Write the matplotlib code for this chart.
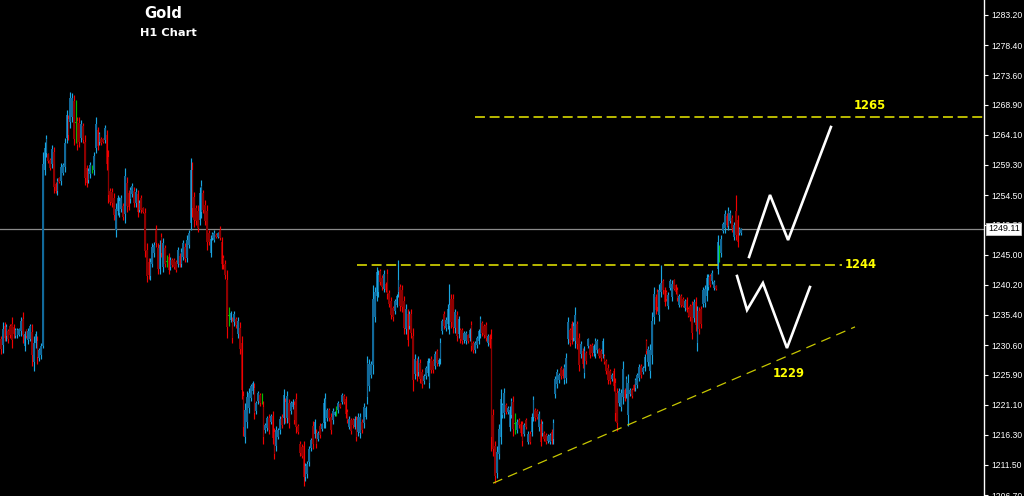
import matplotlib
matplotlib.use('Agg')
import matplotlib.pyplot as plt
import matplotlib.transforms as mtransforms
import numpy as np

# ---------------- data (Gold, H1) ----------------
opens = [
1231.5,1230.6,1233.7,1232.0,1232.8,1233.6,1234.0,1233.5,1232.0,1232.2,
1232.2,1232.8,1234.8,1230.5,1233.0,1231.4,1231.6,1232.7,1227.9,1230.9,
1231.2,1228.6,1229.0,1230.5,1258.5,1261.2,
1261.0,1260.1,1259.5,1261.3,1256.2,1255.1,1257.2,1256.8,1258.1,1259.0,
1263.6,1266.7,1266.1,1267.0,1269.5,1266.0,1266.3,1266.0,1263.6,1265.5,
1263.0,1258.8,1256.9,1257.8,1258.6,1258.5,1262.0,1264.8,1263.0,1263.5,
1263.4,1263.3,1264.0,1260.5,1255.2,1255.0,1254.0,1249.0,1252.0,1251.6,
1252.3,1252.7,1251.5,1256.5,1254.8,1253.8,1254.7,1255.2,1253.2,1254.6,
1252.2,1254.0,1252.4,1251.6,1245.8,1243.8,1241.6,1243.6,1245.2,1249.0,
1246.0,1242.8,1247.8,1243.0,1246.0,1243.9,1244.7,1243.0,1244.2,1244.1,
1243.8,1243.6,1244.8,1243.6,1244.7,1246.3,1244.5,1246.5,
1250.0,1258.5,1254.2,1252.4,1252.0,1250.5,1251.8,1254.8,1253.0,1252.0,
1248.5,1245.3,1247.6,1247.4,1248.2,1247.8,1249.0,1247.0,1244.5,1243.6,
1241.0,1235.2,1234.6,1234.4,1234.2,1234.7,1232.4,1233.4,1231.0,1222.5,
1216.0,1218.3,1220.5,1222.2,1223.3,1223.8,1220.1,1221.7,1222.6,1222.1,
1220.8,1217.0,1217.4,1219.0,1218.3,1219.3,1216.7,1214.5,1216.0,1217.0,
1219.2,1219.0,1221.5,1219.0,1221.4,1220.1,1220.8,1221.0,1222.0,1217.7,
1214.9,1214.4,1214.5,1209.5,1210.0,1212.0,1214.2,1217.7,1216.4,1216.6,
1215.7,1217.7,1217.2,1218.2,1218.4,1219.0,1220.2,1219.2,1218.6,1219.5,
1220.1,1220.2,1221.2,1221.6,1222.5,1222.0,1220.0,1217.6,1218.6,1218.7,
1217.6,1218.7,1216.8,1216.6,1218.4,1218.2,1219.2,1222.3,1224.0,1225.9,
1227.5,1235.0,1238.5,1239.0,1242.4,1241.3,1239.6,1240.3,1242.0,1238.9,
1237.6,1236.5,1236.0,1237.0,1239.0,1239.8,1239.4,1237.6,1233.2,1235.6,
1233.7,1235.6,1232.0,1226.0,1228.0,1226.3,1227.8,1226.3,1224.8,1225.6,
1226.2,1224.6,1228.4,1228.0,1227.3,1229.6,1227.6,1228.4,1232.9,1235.6,
1233.3,1234.0,1233.6,1238.0,1238.0,1233.4,1235.4,1232.4,1233.0,1233.0,
1231.4,1231.3,1232.2,1231.7,1233.8,1231.0,1229.8,1230.6,1231.3,1232.4,
1234.1,1233.6,1233.8,1230.9,1232.0,1231.5,1219.5,1214.5,1210.2,1213.2,
1216.0,1219.4,1219.8,1221.1,1219.9,1217.6,1219.5,1221.6,1218.0,1217.0,
1218.7,1218.1,1218.0,1216.5,1218.7,1215.2,1216.5,1216.8,1219.2,1220.2,
1220.1,1217.6,1218.1,1216.6,1216.6,1216.3,1215.3,1215.2,1216.8,1215.6,
1222.8,1224.4,1225.0,1226.9,1226.7,1225.0,1225.4,1231.5,1233.0,1234.0,
1231.8,1231.2,1233.9,1231.8,1229.1,1229.7,1226.2,1229.3,1230.5,1230.4,
1230.6,1229.3,1229.2,1229.8,1229.9,1229.7,1229.2,1228.9,1228.0,1227.0,
1226.4,1225.2,1226.4,1224.6,1223.0,1221.4,1220.8,1222.4,1223.4,1222.8,
1219.5,1222.8,1223.5,1224.2,1223.7,1224.3,1225.4,1227.2,1226.3,1227.0,
1231.2,1227.9,1226.4,1229.0,1235.0,1238.2,1239.0,1235.4,1239.0,1240.8,
1239.4,1239.0,1236.9,1239.7,1238.3,1240.9,1240.1,1239.4,1237.0,1238.4,
1237.9,1236.5,1237.8,1236.3,1236.8,1237.0,1234.9,1237.5,1231.0,1236.0,
1236.4,1237.2,1237.3,1238.5,1239.8,1241.6,1240.8,1239.7,1240.0,1242.8,
1245.2,1245.3,1248.8,1249.2,1251.2,1249.6,1250.4,1250.8,1247.8,1252.0,
1250.6,1248.4,1248.4]

highs = [
1232.1,1234.2,1234.2,1234.0,1233.2,1234.0,1235.0,1234.0,1233.4,1233.4,
1233.4,1235.0,1235.8,1232.9,1233.2,1233.4,1234.0,1234.0,1232.1,1232.9,
1232.1,1230.2,1231.0,1261.4,1263.0,1264.1,
1261.2,1260.4,1262.5,1262.2,1256.6,1257.2,1257.4,1259.6,1259.6,1263.6,
1268.1,1267.3,1271.0,1270.8,1270.5,1269.7,1267.0,1267.0,1266.5,1266.0,
1264.1,1259.3,1258.8,1259.8,1259.3,1261.4,1267.0,1265.4,1264.6,1263.8,
1263.6,1265.7,1264.9,1261.7,1255.6,1255.6,1254.8,1253.2,1254.5,1254.2,
1254.5,1253.2,1258.8,1257.4,1255.3,1255.8,1256.4,1255.8,1255.6,1255.3,
1253.7,1254.5,1252.6,1252.4,1246.8,1244.4,1244.4,1246.8,1247.0,1249.7,
1246.8,1247.3,1248.4,1247.6,1246.5,1244.9,1245.2,1244.6,1244.4,1244.4,
1244.1,1246.2,1245.2,1246.0,1247.3,1246.8,1248.1,1248.9,
1260.4,1259.8,1255.0,1252.9,1252.9,1255.8,1256.9,1255.3,1253.7,1252.9,
1248.9,1248.1,1248.6,1248.9,1248.4,1248.6,1249.5,1247.8,1244.9,1244.1,
1242.5,1236.6,1236.1,1235.0,1236.1,1235.0,1235.0,1234.2,1232.1,1223.3,
1221.4,1223.3,1223.8,1224.4,1224.9,1224.6,1221.7,1223.3,1223.0,1223.0,
1221.7,1218.2,1219.3,1219.6,1219.6,1220.1,1217.4,1217.7,1217.4,1219.3,
1219.6,1223.6,1222.2,1223.3,1222.0,1221.7,1222.0,1221.7,1223.0,1218.0,
1215.3,1214.8,1215.3,1211.8,1212.1,1214.5,1215.8,1218.5,1218.8,1217.2,
1216.9,1218.2,1218.2,1222.2,1223.0,1220.6,1220.6,1219.8,1220.6,1220.1,
1220.9,1221.7,1221.4,1223.0,1222.8,1222.5,1220.4,1219.3,1219.0,1219.0,
1219.3,1219.3,1219.8,1219.8,1218.8,1221.4,1220.9,1228.9,1228.4,1228.1,
1240.1,1239.8,1243.0,1242.5,1242.8,1241.7,1242.5,1240.6,1242.8,1239.3,
1238.2,1236.9,1238.0,1238.8,1244.1,1240.4,1240.1,1238.5,1237.2,1236.4,
1236.1,1236.4,1233.4,1229.2,1228.6,1228.9,1228.4,1226.8,1226.0,1227.3,
1228.6,1228.6,1228.9,1228.4,1229.7,1230.0,1228.6,1231.8,1234.8,1236.1,
1235.0,1237.2,1240.4,1238.8,1238.8,1236.4,1236.1,1235.3,1233.4,1233.4,
1232.9,1232.9,1232.4,1233.4,1234.5,1231.3,1231.3,1232.1,1233.2,1235.3,
1234.5,1234.0,1234.2,1232.4,1232.4,1233.2,1220.4,1215.3,1214.5,1218.0,
1223.6,1221.4,1223.8,1221.4,1220.9,1220.9,1222.2,1222.5,1219.8,1218.8,
1219.0,1218.5,1218.5,1218.2,1219.0,1216.9,1216.9,1219.8,1222.5,1220.6,
1220.4,1220.1,1218.8,1218.5,1216.9,1216.6,1216.4,1216.6,1217.2,1218.8,
1225.7,1226.8,1226.2,1227.3,1227.0,1227.6,1229.4,1235.0,1233.4,1234.5,
1234.2,1236.6,1234.5,1232.6,1231.3,1230.2,1230.5,1229.7,1231.8,1230.8,
1231.0,1230.8,1231.8,1231.6,1230.2,1230.0,1231.8,1229.2,1228.4,1227.6,
1226.8,1226.2,1227.0,1225.4,1223.8,1223.8,1223.6,1228.1,1223.8,1225.7,
1226.0,1223.8,1223.8,1224.4,1225.4,1226.2,1227.6,1227.6,1227.3,1229.2,
1231.6,1230.5,1230.8,1235.8,1239.8,1238.8,1239.6,1240.4,1243.3,1241.2,
1239.8,1239.3,1239.0,1241.2,1240.9,1241.2,1240.4,1239.8,1238.8,1238.8,
1238.2,1238.0,1238.2,1236.6,1237.2,1237.7,1238.0,1238.2,1236.9,1236.6,
1236.9,1239.8,1240.1,1242.0,1242.0,1242.0,1242.5,1240.9,1240.1,1248.1,
1246.5,1248.1,1250.2,1252.1,1251.6,1252.6,1252.1,1251.3,1250.2,1254.5,
1251.3,1249.4,1249.2]

lows = [
1229.2,1229.4,1231.3,1231.3,1231.0,1231.8,1230.2,1231.8,1231.8,1231.8,
1232.1,1232.1,1231.0,1229.7,1231.8,1230.8,1231.3,1227.3,1226.5,1230.2,
1227.6,1228.1,1228.4,1230.2,1257.7,1260.6,
1259.6,1258.5,1258.8,1254.8,1254.8,1254.5,1256.4,1256.1,1257.7,1258.2,
1262.8,1263.3,1265.2,1266.2,1262.5,1262.8,1261.7,1262.2,1263.0,1262.8,
1256.1,1255.8,1256.4,1257.2,1258.0,1257.7,1261.2,1261.7,1262.5,1262.5,
1262.8,1262.8,1258.5,1253.2,1252.9,1252.6,1250.5,1247.8,1251.3,1251.0,
1251.8,1250.5,1250.0,1251.8,1252.1,1253.2,1254.2,1252.6,1252.6,1251.0,
1251.8,1251.6,1251.6,1244.6,1240.6,1241.2,1240.9,1243.0,1244.6,1246.2,
1242.0,1242.0,1244.6,1242.2,1243.0,1243.0,1242.0,1242.5,1243.0,1242.8,
1242.2,1243.0,1243.0,1243.0,1244.1,1243.8,1243.8,1246.0,
1248.9,1251.0,1249.4,1249.7,1248.6,1249.7,1250.8,1251.6,1249.7,1245.7,
1246.5,1244.6,1247.3,1247.0,1247.6,1247.6,1247.3,1242.8,1242.8,1241.2,
1231.8,1233.7,1234.2,1231.0,1233.7,1233.4,1231.8,1229.2,1222.0,1216.1,
1215.0,1217.4,1219.8,1221.7,1222.8,1218.8,1219.6,1221.2,1220.9,1221.2,
1214.8,1216.6,1216.9,1216.4,1218.0,1214.8,1212.4,1213.7,1215.6,1216.4,
1217.4,1218.0,1218.2,1218.2,1217.4,1219.6,1220.4,1218.0,1216.6,1216.4,
1212.9,1212.6,1208.1,1208.9,1209.4,1211.3,1213.7,1214.0,1215.8,1214.2,
1215.3,1215.8,1216.9,1217.4,1217.4,1218.5,1218.5,1216.4,1218.0,1219.3,
1219.3,1219.8,1220.6,1221.2,1221.2,1219.0,1218.2,1217.2,1216.4,1217.4,
1217.2,1215.3,1216.1,1215.8,1216.6,1217.4,1218.8,1221.2,1223.3,1225.4,
1226.0,1234.2,1237.7,1238.2,1240.1,1239.3,1239.0,1239.0,1238.0,1236.6,
1234.8,1234.5,1235.6,1236.6,1238.2,1236.1,1235.8,1232.4,1232.4,1230.5,
1233.2,1231.8,1223.3,1225.2,1224.9,1225.7,1224.6,1223.8,1224.4,1225.2,
1225.7,1223.8,1226.2,1226.2,1226.8,1227.3,1227.3,1227.6,1232.4,1233.2,
1232.9,1233.2,1232.4,1233.4,1232.6,1232.6,1231.3,1231.8,1231.0,1230.8,
1231.0,1230.8,1231.0,1231.3,1229.7,1229.4,1229.4,1230.2,1230.8,1231.8,
1232.1,1231.8,1231.3,1230.5,1230.2,1213.7,1212.9,1208.6,1209.4,1212.4,
1214.8,1219.0,1219.0,1219.6,1219.6,1216.9,1219.0,1216.1,1216.4,1216.6,
1217.4,1216.1,1214.5,1216.1,1217.2,1214.8,1214.8,1216.1,1218.5,1218.5,
1218.8,1216.9,1214.5,1216.1,1215.3,1214.8,1215.0,1214.8,1214.8,1214.8,
1222.2,1223.8,1224.6,1225.2,1225.4,1224.4,1224.6,1230.8,1230.5,1230.8,
1231.3,1230.2,1230.0,1226.5,1228.6,1227.0,1225.4,1227.6,1230.2,1228.6,
1228.9,1228.9,1228.6,1229.4,1228.6,1228.1,1228.6,1227.6,1226.0,1224.4,
1224.4,1224.9,1223.3,1218.5,1216.9,1220.9,1220.1,1221.2,1221.7,1222.2,
1217.7,1222.5,1222.2,1223.3,1223.3,1223.8,1224.9,1225.4,1226.0,1226.5,
1229.2,1227.3,1225.4,1227.6,1234.0,1235.6,1236.1,1234.5,1238.2,1238.8,
1236.9,1237.7,1236.4,1239.3,1237.7,1239.3,1238.8,1237.7,1236.6,1236.6,
1236.6,1236.1,1235.8,1235.0,1234.5,1231.6,1234.2,1232.9,1229.7,1232.4,
1233.4,1236.6,1236.6,1237.7,1239.3,1239.8,1240.4,1239.3,1239.3,1242.0,
1243.8,1244.6,1248.4,1248.4,1249.4,1248.9,1250.0,1248.6,1247.3,1247.3,
1246.2,1248.1,1248.1]

closes = [
1229.9,1233.2,1231.8,1233.5,1231.5,1232.2,1231.4,1232.3,1233.0,1233.0,
1233.1,1234.4,1232.2,1232.3,1232.0,1232.9,1233.6,1229.0,1231.0,1232.4,
1228.7,1229.8,1230.5,1259.5,1262.0,1263.4,
1259.9,1258.8,1261.8,1255.8,1255.2,1256.7,1256.6,1259.0,1259.3,1262.8,
1267.2,1264.0,1269.9,1270.0,1263.5,1266.0,1262.5,1263.0,1265.8,1263.3,
1257.2,1256.4,1258.4,1259.3,1258.6,1260.8,1265.8,1262.3,1264.2,1262.8,
1263.0,1265.2,1259.5,1254.5,1253.4,1253.2,1251.3,1252.3,1254.0,1253.6,
1254.0,1251.0,1257.5,1252.8,1252.6,1255.3,1256.0,1253.2,1255.0,1251.8,
1253.3,1252.2,1251.8,1245.6,1241.6,1241.8,1243.8,1246.2,1246.5,1246.8,
1242.8,1246.5,1245.2,1246.8,1243.6,1243.9,1242.6,1244.2,1243.3,1243.1,
1242.6,1245.7,1243.4,1245.5,1246.8,1244.3,1247.4,1248.4,
1258.5,1252.5,1250.5,1250.3,1249.3,1254.8,1256.0,1252.2,1250.3,1247.0,
1247.0,1247.5,1248.3,1248.5,1247.8,1248.4,1247.7,1243.6,1243.3,1241.8,
1233.5,1235.2,1235.7,1231.8,1235.6,1233.8,1234.5,1230.0,1223.5,1217.5,
1220.3,1222.3,1223.0,1224.0,1224.5,1219.8,1221.3,1222.9,1221.4,1222.1,
1216.0,1217.9,1218.9,1217.0,1219.3,1215.8,1213.3,1217.0,1217.0,1218.8,
1217.8,1222.6,1219.0,1222.5,1218.2,1221.3,1221.6,1218.6,1217.6,1216.8,
1213.4,1213.0,1209.5,1211.3,1211.6,1214.0,1215.4,1214.8,1218.3,1214.8,
1216.6,1216.3,1218.0,1221.4,1222.0,1220.2,1219.0,1217.0,1220.1,1219.9,
1220.1,1221.3,1220.8,1222.6,1221.6,1219.6,1218.6,1218.9,1216.9,1217.8,
1218.9,1216.0,1219.2,1219.2,1217.0,1220.8,1220.5,1227.8,1227.6,1227.6,
1238.0,1239.0,1242.2,1241.8,1240.6,1239.8,1241.9,1239.4,1238.8,1237.2,
1235.4,1235.0,1237.6,1238.4,1241.0,1236.8,1236.6,1233.4,1236.4,1231.4,
1235.6,1232.6,1225.0,1228.4,1225.6,1228.4,1225.2,1224.4,1225.7,1227.0,
1228.1,1227.8,1226.7,1226.6,1229.2,1227.8,1228.3,1231.0,1234.4,1233.7,
1234.6,1236.4,1237.0,1234.2,1233.5,1235.8,1232.0,1234.7,1231.5,1231.3,
1232.5,1232.5,1231.3,1233.0,1230.5,1229.8,1231.0,1231.8,1232.8,1234.8,
1232.6,1232.2,1231.8,1232.0,1230.6,1216.0,1214.0,1209.8,1213.6,1217.2,
1222.0,1221.0,1223.0,1220.0,1220.6,1220.3,1221.7,1217.2,1218.0,1218.4,
1217.8,1216.6,1215.3,1217.8,1217.6,1216.5,1215.2,1219.2,1221.8,1219.0,
1219.1,1219.6,1215.2,1218.0,1215.7,1215.2,1216.1,1216.3,1215.3,1218.2,
1225.2,1226.3,1225.8,1225.6,1225.7,1227.1,1228.6,1234.2,1231.0,1231.4,
1233.7,1235.4,1230.8,1227.5,1230.8,1227.6,1229.7,1228.0,1231.5,1229.0,
1229.3,1230.4,1231.3,1231.2,1228.9,1228.5,1231.3,1227.9,1226.5,1225.0,
1224.9,1225.9,1224.0,1219.8,1218.2,1223.3,1223.0,1226.8,1222.1,1225.2,
1224.5,1223.5,1222.5,1223.5,1225.0,1225.8,1227.1,1225.8,1227.0,1228.7,
1229.6,1230.0,1229.8,1234.5,1238.8,1236.2,1236.7,1239.4,1240.5,1239.3,
1237.4,1238.0,1238.6,1240.8,1240.4,1239.6,1239.1,1238.1,1238.4,1237.0,
1236.9,1237.6,1236.2,1235.3,1235.0,1232.6,1237.4,1233.8,1236.0,1233.2,
1234.0,1239.3,1239.5,1241.3,1241.5,1240.2,1242.1,1240.6,1239.5,1247.0,
1245.2,1247.5,1249.9,1251.5,1249.8,1252.0,1251.7,1249.2,1249.8,1248.2,
1247.0,1249.1,1249.11]

# price-scale ticks
tick_values = [1283.20, 1278.40, 1273.60, 1268.90, 1264.10, 1259.30, 1254.50,
               1249.80, 1245.00, 1240.20, 1235.40, 1230.60, 1225.90, 1221.10,
               1216.30, 1211.50, 1206.70]

# analyst drawings (bar-index / price coordinates)
X_MAX = 539.15
level_prices = [1266.94, 1243.36]
level_x0 = [260.0, 195.3]
level_x1 = [X_MAX, 461.3]
level_labels = ['1265', '1244']
level_label_x = [476.6, 462.9]
level_label_y = [1268.7, 1243.5]
trend_x = [269.9, 468.4]
trend_y = [1208.6, 1233.5]
trend_label = '1229'
trend_label_x = 432.2
trend_label_y = 1226.0
up_path_x = [410.3, 421.8, 431.7, 455.2]
up_path_y = [1244.64, 1254.52, 1247.34, 1265.35]
down_path_x = [403.7, 409.2, 417.9, 431.1, 443.7]
down_path_y = [1241.61, 1236.19, 1240.49, 1230.13, 1239.85]

# ---------------- drawing ----------------
n = len(closes)
assert len(opens) == n and len(highs) == n and len(lows) == n, (len(opens), len(highs), len(lows), n)

BULL_WICK = '#19a6e0'
BULL_BODY = '#11699a'
BEAR_WICK = '#f00000'
BEAR_BODY = '#8e0000'
DOJI = '#00c000'
LEVEL = '#c8c800'

fig = plt.figure(figsize=(10.24, 4.96), dpi=100, facecolor='black')
ax = fig.add_axes([0, 0, 984 / 1024, 1])
ax.set_facecolor('black')

xs = np.arange(n)
o = np.array(opens); h = np.array(highs); l = np.array(lows); c = np.array(closes)
wick_cols = [BULL_WICK if cc > oo else (BEAR_WICK if cc < oo else DOJI) for oo, cc in zip(o, c)]
body_cols = [BULL_BODY if cc > oo else (BEAR_BODY if cc < oo else DOJI) for oo, cc in zip(o, c)]

ax.vlines(xs, l, h, colors=wick_cols, linewidth=0.85, zorder=3)
bottoms = np.minimum(o, c)
heights = np.maximum(np.abs(c - o), 0.12)
ax.bar(xs, heights, bottom=bottoms, width=0.9, color=body_cols, linewidth=0, zorder=4)

# current price line
ax.axhline(closes[-1], color='#8a8a8a', linewidth=0.9, zorder=2)

# horizontal levels
for lp, x0, x1 in zip(level_prices, level_x0, level_x1):
    ax.plot([x0, x1], [lp, lp], color=LEVEL, linewidth=1.3, dashes=(5.5, 2.6), zorder=5)
for lab, lx, ly, ha in zip(level_labels, level_label_x, level_label_y, ['center', 'left']):
    ax.text(lx, ly, lab, color='#ffff00', fontsize=8.3, fontweight='bold',
            family='DejaVu Sans', ha=ha, va='center', zorder=6)

# trend line
ax.plot(trend_x, trend_y, color=LEVEL, linewidth=0.9, dashes=(8, 5), zorder=5)
ax.text(trend_label_x, trend_label_y, trend_label, color='#ffff00', fontsize=8.3,
        fontweight='bold', family='DejaVu Sans', ha='center', va='center', zorder=6)

# scenario zig-zags
ax.plot(up_path_x, up_path_y, color='white', linewidth=1.9, solid_joinstyle='miter', zorder=6)
ax.plot(down_path_x, down_path_y, color='white', linewidth=1.9, solid_joinstyle='miter', zorder=6)

ax.set_xlim(-0.5, X_MAX)
ax.set_ylim(1206.55, 1285.59)

# axes styling
for s in ['left', 'top', 'bottom']:
    ax.spines[s].set_visible(False)
ax.spines['right'].set_color('white')
ax.spines['right'].set_linewidth(1.0)
ax.set_xticks([])
ax.yaxis.tick_right()
ax.set_yticks(tick_values)
ax.set_yticklabels(['%.2f' % v for v in tick_values], family='Liberation Sans')
ax.tick_params(axis='y', colors='white', labelcolor='white', length=3, width=0.8,
               labelsize=6.2, pad=2.5, direction='out')

# current price box
trans = mtransforms.blended_transform_factory(ax.transAxes, ax.transData)
ax.text(1.004, closes[-1], '%.2f' % closes[-1], transform=trans, ha='left', va='center',
        fontsize=6.4, family='Liberation Sans', color='black', zorder=10, clip_on=False,
        bbox=dict(boxstyle='square,pad=0.2', fc='white', ec='#cccccc', lw=0.6))

# title
fig.text(163 / 1024, 1 - 13 / 496, 'Gold', color='white', fontsize=10.6, fontweight='bold',
         family='DejaVu Sans', ha='center', va='center')
fig.text(168 / 1024, 1 - 33 / 496, 'H1 Chart', color='white', fontsize=8.2, fontweight='bold',
         family='DejaVu Sans', ha='center', va='center')

fig.savefig('out.png', dpi=100, facecolor='black')
